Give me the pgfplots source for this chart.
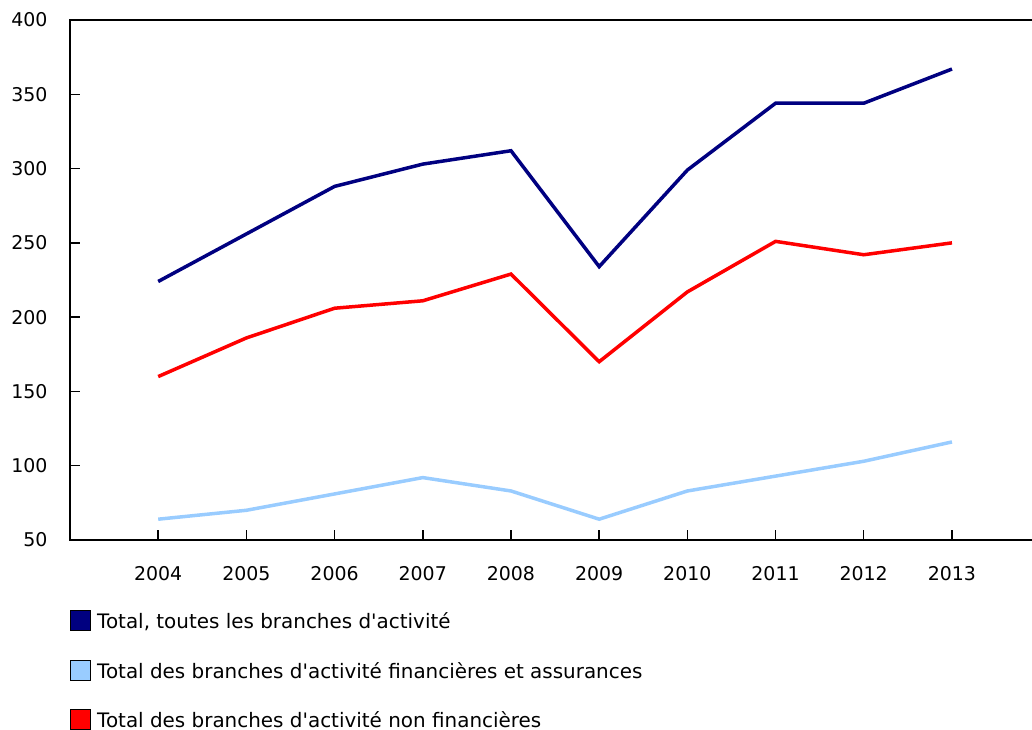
\documentclass[border=0pt]{standalone}
\usepackage{pgfplots}
\pgfplotsset{compat=1.18}
\usepackage{fontspec}
\setmainfont{DejaVu Sans}
\definecolor{navyc}{RGB}{0,0,128}
\definecolor{lblue}{RGB}{153,204,255}
\definecolor{redc}{RGB}{255,0,0}

\begin{document}
\fontsize{19}{23}\selectfont
\begin{tikzpicture}
\path[use as bounding box] (0,0) rectangle (1032bp,730bp);
\begin{axis}[
  at={(70bp,190bp)}, anchor=south west,
  scale only axis, width=964bp, height=520bp,
  xmin=2003, xmax=2013.93, ymin=50, ymax=400,
  xtick={2004,...,2013}, ytick={50,100,...,400},
  xticklabel style={/pgf/number format/1000 sep={}, yshift=-20bp},
  yticklabel style={xshift=-16bp},
  /pgf/number format/assume math mode=true,
  xtick pos=bottom, ytick pos=left,
  tick align=inside, major tick length=10bp,
  every tick/.style={black, line width=1.5bp},
  axis line style={black, line width=2bp},
  tick label style={font=\fontsize{19}{23}\selectfont},
  legend style={at={(0,-0.1346)}, anchor=north west, draw=none, fill=none,
    inner sep=0pt, row sep=27bp, column sep=0pt,
    font=\fontsize{20}{24}\selectfont,
    nodes={inner xsep=6bp, inner ysep=0pt, text height=14bp, text depth=4bp}},
  legend cell align=left,
]
\addplot[navyc, line width=3.5bp,
  legend image code/.code={\draw[fill=navyc, draw=black, line width=1bp] (0bp,-7bp) rectangle (20bp,13bp);}]
  coordinates {(2004,224) (2005,256) (2006,288) (2007,303) (2008,312) (2009,234) (2010,299) (2011,344) (2012,344) (2013,367)};
\addlegendentry{Total, toutes les branches d\textquotesingle activité}
\addplot[lblue, line width=3.5bp,
  legend image code/.code={\draw[fill=lblue, draw=black, line width=1bp] (0bp,-7bp) rectangle (20bp,13bp);}]
  coordinates {(2004,64) (2005,70) (2006,81) (2007,92) (2008,83) (2009,64) (2010,83) (2011,93) (2012,103) (2013,116)};
\addlegendentry{Total des branches d\textquotesingle activité financières et assurances}
\addplot[redc, line width=3.5bp,
  legend image code/.code={\draw[fill=redc, draw=black, line width=1bp] (0bp,-7bp) rectangle (20bp,13bp);}]
  coordinates {(2004,160) (2005,186) (2006,206) (2007,211) (2008,229) (2009,170) (2010,217) (2011,251) (2012,242) (2013,250)};
\addlegendentry{Total des branches d\textquotesingle activité non financières}
\end{axis}
\end{tikzpicture}
\end{document}
